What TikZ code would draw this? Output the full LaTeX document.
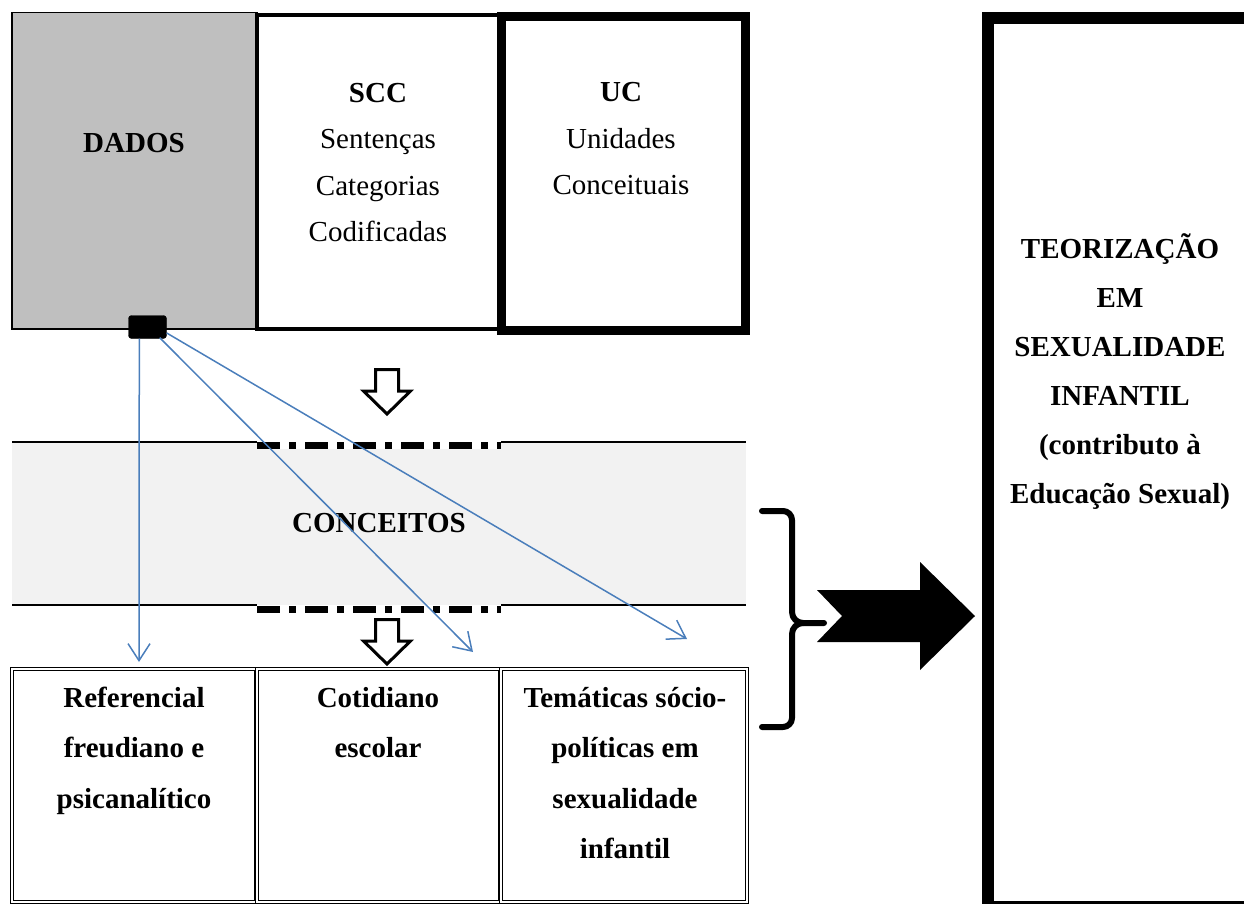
\documentclass[tikz,border=0pt]{standalone}
\usepackage{fontspec}
\setmainfont{Liberation Serif}
\usetikzlibrary{arrows.meta,calc}
\definecolor{dadosgray}{HTML}{BFBFBF}
\definecolor{bandgray}{HTML}{F2F2F2}
\definecolor{linkblue}{HTML}{4A7EBB}
\begin{document}
\begin{tikzpicture}[x=1pt,y=-1pt,
  txt/.style={inner sep=0pt, align=center, anchor=base, font={\fontsize{29}{46.5}\selectfont}},
  txtbot/.style={inner sep=0pt, align=center, anchor=base, font={\fontsize{29}{50.5}\selectfont\bfseries}},
  txtright/.style={inner sep=0pt, align=center, anchor=base, font={\fontsize{29}{49}\selectfont\bfseries}},
  hollow/.style={draw=black, fill=white, line width=3pt, line join=miter},
  link/.style={draw=linkblue, line width=1.5pt, -{Straight Barb[length=17pt,width=22pt,line width=1.5pt]}},
  dashdotline/.style={line width=7pt, dash pattern=on 23pt off 9pt on 7pt off 9pt},
  dblbox/.style={draw, double, line width=0.9pt, double distance=1.6pt}
]
\useasboundingbox (0,0) rectangle (1244,904);

% top boxes
\draw[fill=dadosgray, line width=1.8pt] (12,12.5) rectangle (257,329);
\draw[line width=4pt] (257,15) rectangle (499,329);
\draw[line width=9pt] (501.5,17) rectangle (745,330.5);

% (multi-line nodes: base anchor = baseline of the last line)
\node[txt] (dados) at (134,153) {\textbf{DADOS}};
\node[txt] (scc) at (378,241.5) {\textbf{SCC}\\Sentenças\\Categorias\\Codificadas};
\node[txt] (uc) at (621,195) {\textbf{UC}\\Unidades\\Conceituais};

% hollow arrows
\draw[hollow] (375.5,369.5) -- (398.5,369.5) -- (398.5,391) -- (410.5,391) -- (387,414) -- (363.5,391) -- (375.5,391) -- cycle;
\draw[hollow] (375.5,619.5) -- (398.5,619.5) -- (398.5,641) -- (410.5,641) -- (387,664) -- (363.5,641) -- (375.5,641) -- cycle;

% concepts band
\fill[bandgray] (12,443) rectangle (746,605);
\draw[line width=2pt] (12,442) -- (257,442);
\draw[line width=2pt] (501,442) -- (746,442);
\draw[line width=2pt] (12,605) -- (257,605);
\draw[line width=2pt] (501,605) -- (746,605);
\draw[white, line width=7pt] (257,445.5) -- (501,445.5);
\draw[dashdotline] (257,445.5) -- (501,445.5);
\draw[dashdotline] (257,609) -- (501,609);
\node[txt, font={\fontsize{29}{46.5}\selectfont\bfseries}] (conceitos) at (379,532) {CONCEITOS};

% bottom boxes
\draw[dblbox] (12,669) rectangle (256,902);
\draw[dblbox] (257,669) rectangle (500,902);
\draw[dblbox] (501,669) rectangle (747,902);
\node[txtbot] (ref) at (134,808) {Referencial\\freudiano e\\psicanalítico};
\node[txtbot] (cot) at (378,757.5) {Cotidiano\\escolar};
\node[txtbot] (tem) at (625,858.5) {Temáticas sócio-\\políticas em\\sexualidade\\infantil};

% connector dot and blue links
\node[fill=black, draw=black, rounded corners=3pt, minimum width=38pt, minimum height=23pt, inner sep=0pt] (dot) at (147.5,327) {};
\coordinate (s1) at ($(dot.south west)+(11,0)$);
\coordinate (s2) at ($(dot.south east)+(-7,-1)$);
\coordinate (s3) at ($(dot.east)+(0,6)$);
\coordinate (t1) at (139,662);
\coordinate (t2) at (473,652);
\coordinate (t3) at (687,639);
\draw[link] (s1) -- (t1);
\draw[link] (s2) -- (t2);
\draw[link] (s3) -- (t3);

% brace
\draw[line width=6pt, line cap=round, line join=round]
  (762,511) -- (783,511) to[out=0,in=90] (792,520) -- (792,612) to[out=-90,in=180] (803,623) -- (824,623);
\draw[line width=6pt, line cap=round, line join=round]
  (803,623) to[out=180,in=90] (792,634) -- (792,718) to[out=-90,in=0] (783,727) -- (762,727);

% big arrow
\fill[black] (817,590) -- (920,590) -- (920,562) -- (975,616) -- (920,670) -- (920,642) -- (817,642) -- (842,616) -- cycle;

% right box
\draw[line width=12pt, line join=miter] (1250,18) -- (988,18) -- (988,907) -- (1250,907);
\node[txtright] (teor) at (1120,503) {TEORIZAÇÃO\\EM\\SEXUALIDADE\\INFANTIL\\(contributo à\\Educação Sexual)};
\end{tikzpicture}
\end{document}
